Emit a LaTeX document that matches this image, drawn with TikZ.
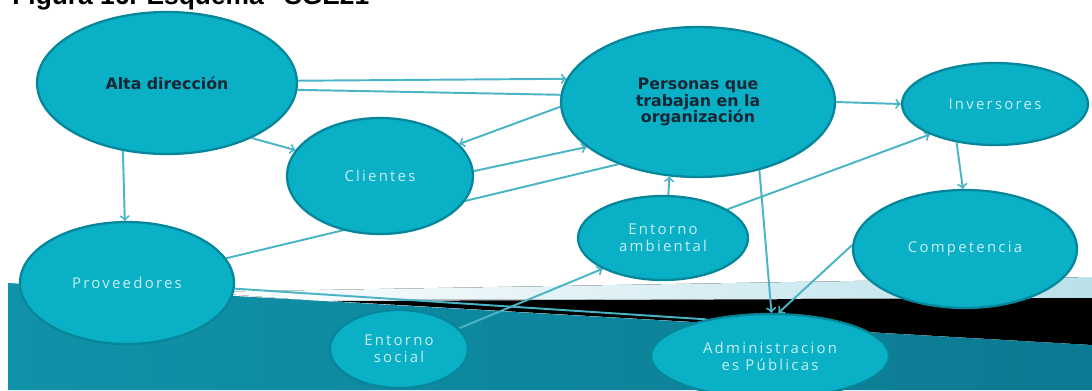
\documentclass[tikz,border=0pt]{standalone}
\usepackage{fontspec}
\setmainfont{Open Sans}
\newfontfamily\negrita{DejaVu Sans}
\newfontfamily\espaciada[LetterSpace=15]{Open Sans}
\newfontfamily\titulo{Liberation Sans}
\usepackage{tikz}
\usetikzlibrary{arrows, shapes.geometric, backgrounds}
\definecolor{turquesa}{RGB}{10, 176, 197}
\definecolor{borde}{RGB}{6, 134, 154}
\definecolor{flecha}{RGB}{72, 180, 198}
\definecolor{oscuro}{RGB}{25, 38, 52}
\definecolor{palido}{RGB}{200, 238, 243}
\definecolor{fondoA}{RGB}{16, 146, 168}
\definecolor{fondoB}{RGB}{22, 188, 212}
\definecolor{fondoC}{RGB}{12, 122, 146}
\definecolor{franja}{RGB}{186, 224, 234}
\tikzset{
    elip/.style={ellipse, draw=borde, fill=turquesa, line width=1.3pt, inner sep=0pt, align=center},
    jefe/.style={elip, text=oscuro, font=\negrita\bfseries\fontsize{9}{9.6}\selectfont},
    grupo/.style={elip, text=palido, font=\espaciada\fontsize{8.5}{9.8}\selectfont},
    conn/.style={-to, flecha, line width=1.1pt},
    linea/.style={-, flecha, line width=1.1pt},
}

\begin{document}
\begin{tikzpicture}[x=0.02cm, y=-0.02cm]
    \useasboundingbox (0,0) rectangle (1092,390);
    \clip (0,0) rectangle (1092,390);
    % caption, cut by the top edge
    \node [anchor=base west, inner sep=0pt, font=\titulo\bfseries\fontsize{15}{18}\selectfont] (tit) at (12,4) {Figura 16. Esquema “SGE21”};

    \node [jefe, minimum width=5.2cm, minimum height=2.84cm] (alta) at (167,83) {Alta dirección};
    \node [jefe, minimum width=5.48cm, minimum height=3cm] (personas) at (698,102) {Personas que\\trabajan en la\\organización};
    \node [grupo, minimum width=3.72cm, minimum height=1.64cm] (inversores) at (995,104) {Inversores};
    \node [grupo, minimum width=3.72cm, minimum height=2.32cm] (clientes) at (380,176) {Clientes};
    \node [grupo, minimum width=4.28cm, minimum height=2.44cm] (proveedores) at (127,283) {Proveedores};
    \node [grupo, minimum width=3.4cm, minimum height=1.68cm] (ambiental) at (663,238) {Entorno\\ambiental};
    \node [grupo, minimum width=4.48cm, minimum height=2.36cm] (competencia) at (965,249) {Competencia};
    \node [grupo, minimum width=2.76cm, minimum height=1.56cm] (social) at (399,349) {Entorno\\social};
    \node [grupo, minimum width=4.76cm, minimum height=1.68cm] (admin) at (770,356) {Administracion\\es Públicas};

    \begin{scope}[on background layer]
        \fill[white] (0,0) rectangle (1092,390);
        \fill[left color=white, right color=franja] (200,292) -- (1092,277) -- (1092,298) -- (305,300) -- cycle;
        \fill[black] (330,301) -- (1092,298) -- (1092,345) -- cycle;
        \shade[left color=fondoA, middle color=fondoB, right color=fondoC] (8,283) -- (1092,345) -- (1092,390) -- (8,390) -- cycle;

        \draw[conn] (alta.1) -- (personas.170);
        \draw[linea] (alta.-3) -- (personas.177);
        \draw[conn] (alta.-33) -- (clientes.163);
        \draw[conn] (alta.237) -- (proveedores.92);
        \draw[conn] (personas.182) -- (clientes.22);
        \draw[conn] (clientes.3) -- (personas.202);
        \draw[linea] (proveedores.14) -- (personas.218);
        \draw[linea] (proveedores.-3) -- (admin.150);
        \draw[conn] (social.19) -- (ambiental.207);
        \draw[conn] (ambiental.83) -- (personas.249);
        \draw[conn] (ambiental.24) -- (inversores.205);
        \draw[conn] (personas.-48) -- (admin.88);
        \draw[conn] (competencia.178) -- (admin.79);
        \draw[conn] (personas.east) -- (inversores.west);
        \draw[conn] (inversores.225) -- (competencia.92);
    \end{scope}
\end{tikzpicture}
\end{document}
